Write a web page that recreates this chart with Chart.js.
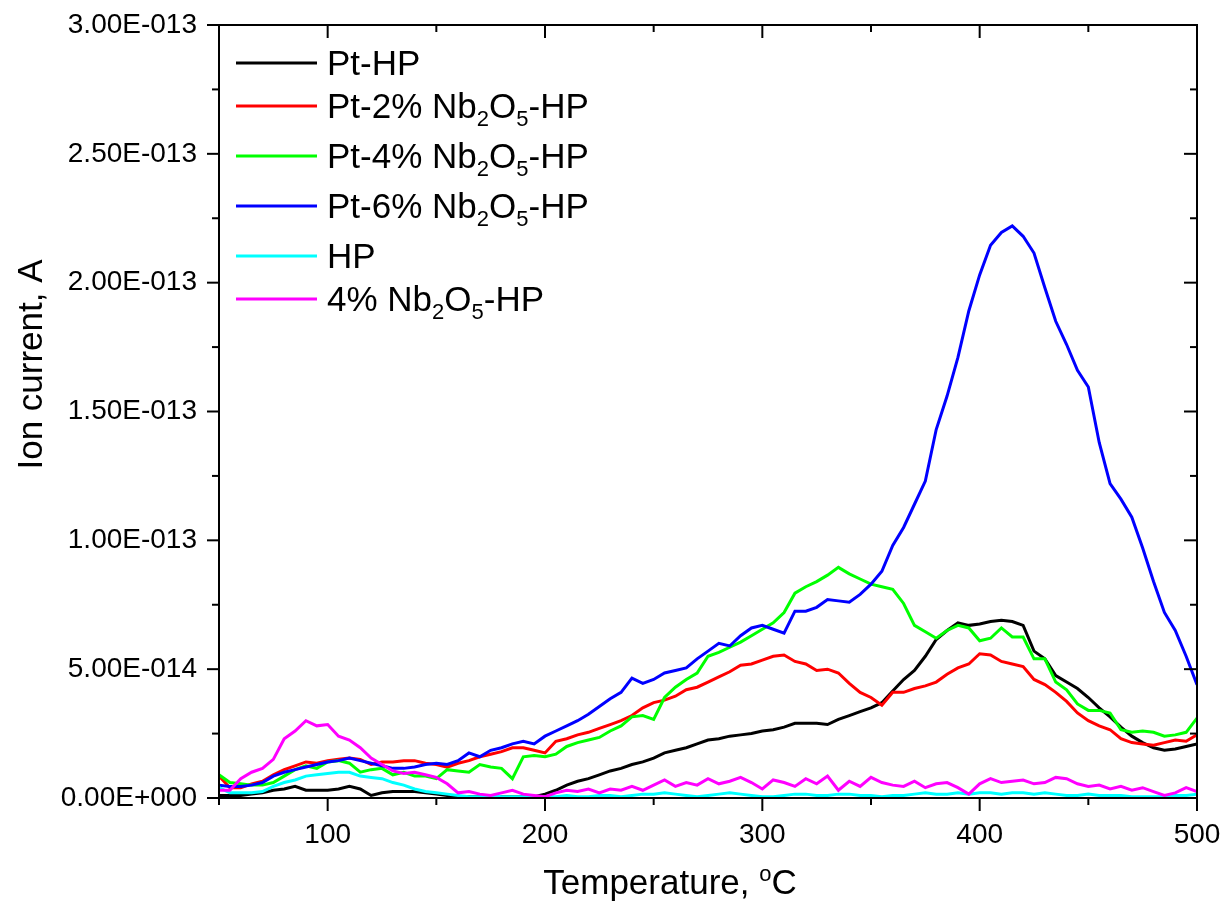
<!DOCTYPE html>
<html>
<head>
<meta charset="utf-8">
<script src="https://cdn.jsdelivr.net/npm/chart.js@4.4.1/dist/chart.umd.min.js"></script>
<style>
  html, body { margin: 0; padding: 0; background: #fff; }
</style>
</head>
<body>
<canvas id="tpdChart" width="1224" height="903"></canvas>
<script>
// temperature, deg C
const temps = [
  50, 55, 60, 65, 70, 75, 80, 85, 90, 95,
  100, 105, 110, 115, 120, 125, 130, 135, 140, 145,
  150, 155, 160, 165, 170, 175, 180, 185, 190, 195,
  200, 205, 210, 215, 220, 225, 230, 235, 240, 245,
  250, 255, 260, 265, 270, 275, 280, 285, 290, 295,
  300, 305, 310, 315, 320, 325, 330, 335, 340, 345,
  350, 355, 360, 365, 370, 375, 380, 385, 390, 395,
  400, 405, 410, 415, 420, 425, 430, 435, 440, 445,
  450, 455, 460, 465, 470, 475, 480, 485, 490, 495,
  500
];

// ion current, in units of 1E-14 A
const ptHP = [
  0.1, 0.1, 0.1, 0.15, 0.2, 0.3, 0.35, 0.45, 0.3, 0.3,
  0.3, 0.35, 0.45, 0.35, 0.1, 0.2, 0.25, 0.25, 0.25, 0.2,
  0.15, 0.1, 0.05, 0.05, 0.05, 0.05, 0.05, 0.05, 0.05, 0.05,
  0.15, 0.3, 0.5, 0.65, 0.75, 0.9, 1.05, 1.15, 1.3, 1.4,
  1.55, 1.75, 1.85, 1.95, 2.1, 2.25, 2.3, 2.4, 2.45, 2.5,
  2.6, 2.65, 2.75, 2.9, 2.9, 2.9, 2.85, 3.05, 3.2, 3.35,
  3.5, 3.7, 4.15, 4.6, 4.95, 5.5, 6.15, 6.5, 6.8, 6.7,
  6.75, 6.85, 6.9, 6.85, 6.7, 5.7, 5.4, 4.75, 4.5, 4.25,
  3.9, 3.5, 3.15, 2.75, 2.4, 2.15, 1.95, 1.85, 1.9, 2.0,
  2.1
];
const pt2Nb = [
  0.85, 0.4, 0.4, 0.55, 0.65, 0.9, 1.1, 1.25, 1.4, 1.35,
  1.45, 1.5, 1.55, 1.5, 1.3, 1.4, 1.4, 1.45, 1.45, 1.35,
  1.3, 1.2, 1.35, 1.45, 1.6, 1.7, 1.8, 1.95, 1.95, 1.85,
  1.75, 2.2, 2.3, 2.45, 2.55, 2.7, 2.85, 3.0, 3.2, 3.5,
  3.7, 3.8, 3.95, 4.2, 4.3, 4.5, 4.7, 4.9, 5.15, 5.2,
  5.35, 5.5, 5.55, 5.3, 5.2, 4.95, 5.0, 4.85, 4.45, 4.1,
  3.9, 3.6, 4.1, 4.1, 4.25, 4.35, 4.5, 4.8, 5.05, 5.2,
  5.6, 5.55, 5.3, 5.2, 5.1, 4.6, 4.4, 4.1, 3.75, 3.3,
  3.0, 2.8, 2.65, 2.3, 2.15, 2.1, 2.05, 2.15, 2.25, 2.2,
  2.45
];
const pt4Nb = [
  0.9, 0.6, 0.55, 0.5, 0.5, 0.6, 0.85, 1.1, 1.25, 1.15,
  1.4, 1.45, 1.35, 1.0, 1.1, 1.15, 0.9, 1.0, 0.85, 0.85,
  0.75, 1.1, 1.05, 1.0, 1.3, 1.2, 1.15, 0.75, 1.6, 1.65,
  1.6, 1.7, 2.0, 2.15, 2.25, 2.35, 2.6, 2.8, 3.15, 3.2,
  3.05, 3.9, 4.3, 4.6, 4.85, 5.5, 5.65, 5.85, 6.05, 6.3,
  6.55, 6.8, 7.2, 7.95, 8.2, 8.4, 8.65, 8.95, 8.7, 8.5,
  8.3, 8.2, 8.1, 7.55, 6.7, 6.45, 6.2, 6.5, 6.7, 6.6,
  6.1, 6.2, 6.6, 6.25, 6.25, 5.4, 5.4, 4.5, 4.2, 3.65,
  3.4, 3.4, 3.3, 2.65, 2.55, 2.6, 2.55, 2.4, 2.45, 2.55,
  3.1
];
const pt6Nb = [
  0.5, 0.45, 0.45, 0.5, 0.6, 0.85, 1.0, 1.1, 1.2, 1.3,
  1.4, 1.45, 1.55, 1.45, 1.35, 1.25, 1.15, 1.15, 1.2, 1.3,
  1.35, 1.3, 1.45, 1.75, 1.6, 1.85, 1.95, 2.1, 2.2, 2.1,
  2.4, 2.6, 2.8, 3.0, 3.25, 3.55, 3.85, 4.1, 4.65, 4.45,
  4.6, 4.85, 4.95, 5.05, 5.4, 5.7, 6.0, 5.9, 6.3, 6.6,
  6.7, 6.55, 6.4, 7.25, 7.25, 7.4, 7.7, 7.65, 7.6, 7.9,
  8.3, 8.8, 9.8, 10.5, 11.4, 12.3, 14.3, 15.6, 17.1, 18.9,
  20.3, 21.45, 21.95, 22.2, 21.8, 21.15, 19.8, 18.5, 17.6, 16.6,
  15.95, 13.8, 12.2, 11.6, 10.9, 9.7, 8.4, 7.2, 6.5, 5.5,
  4.4
];
const hp = [
  0.4, 0.2, 0.2, 0.2, 0.25, 0.45, 0.6, 0.7, 0.85, 0.9,
  0.95, 1.0, 1.0, 0.85, 0.8, 0.75, 0.6, 0.5, 0.35, 0.25,
  0.2, 0.15, 0.1, 0.05, 0.05, 0.1, 0.05, 0.05, 0.05, 0.05,
  0.05, 0.05, 0.1, 0.05, 0.05, 0.1, 0.1, 0.05, 0.1, 0.15,
  0.15, 0.2, 0.15, 0.1, 0.05, 0.1, 0.15, 0.2, 0.15, 0.1,
  0.05, 0.05, 0.1, 0.15, 0.15, 0.1, 0.1, 0.15, 0.15, 0.1,
  0.1, 0.05, 0.1, 0.1, 0.15, 0.2, 0.15, 0.15, 0.2, 0.15,
  0.2, 0.2, 0.15, 0.2, 0.2, 0.15, 0.2, 0.15, 0.1, 0.1,
  0.15, 0.1, 0.1, 0.1, 0.05, 0.05, 0.05, 0.05, 0.1, 0.1,
  0.15
];
const nb4HP = [
  0.3, 0.3, 0.75, 1.0, 1.15, 1.5, 2.3, 2.6, 3.0, 2.8,
  2.85, 2.4, 2.25, 1.95, 1.55, 1.3, 1.05, 0.95, 1.0, 0.9,
  0.8, 0.55, 0.2, 0.25, 0.15, 0.1, 0.2, 0.3, 0.15, 0.1,
  0.05, 0.2, 0.3, 0.25, 0.35, 0.2, 0.35, 0.3, 0.45, 0.3,
  0.5, 0.7, 0.45, 0.6, 0.5, 0.75, 0.55, 0.65, 0.8, 0.6,
  0.35, 0.7, 0.6, 0.45, 0.75, 0.55, 0.85, 0.3, 0.65, 0.45,
  0.8, 0.6, 0.5, 0.45, 0.65, 0.4, 0.55, 0.6, 0.4, 0.15,
  0.55, 0.75, 0.6, 0.65, 0.7, 0.55, 0.6, 0.8, 0.75, 0.55,
  0.45, 0.5, 0.35, 0.45, 0.3, 0.4, 0.25, 0.1, 0.2, 0.4,
  0.25
];

const seriesNames  = ["Pt-HP", "Pt-2% Nb2O5-HP", "Pt-4% Nb2O5-HP", "Pt-6% Nb2O5-HP", "HP", "4% Nb2O5-HP"];
const seriesValues = [ptHP, pt2Nb, pt4Nb, pt6Nb, hp, nb4HP];
const seriesColors = ["#000000", "#ff0000", "#00ff00", "#0000ff", "#00ffff", "#ff00ff"];

const xMajorTicks = [100, 200, 300, 400, 500];
const xMinorTicks = [50, 150, 250, 350, 450];
const yMajorTicks = [0, 5e-14, 1e-13, 1.5e-13, 2e-13, 2.5e-13, 3e-13];
const yMinorTicks = [2.5e-14, 7.5e-14, 1.25e-13, 1.75e-13, 2.25e-13, 2.75e-13];

const FONT = "'Liberation Sans', Arial, sans-serif";

// 5.00E-014 style
function sciLabel(v) {
    if (v === 0) return "0.00E+000";
    const [m, e] = v.toExponential(2).split("e");
    const n = parseInt(e, 10);
    return m + "E" + (n < 0 ? "-" : "+") + String(Math.abs(n)).padStart(3, "0");
}

// text with chemical subscripts (Nb2O5) or a superscript o
function drawRich(ctx, parts, x, y, size) {
    let cx = x;
    parts.forEach(p => {
        const s = p.sub || p.sup ? Math.round(size * 0.62) : size;
        ctx.font = s + "px " + FONT;
        const dy = p.sub ? size * 0.24 : (p.sup ? -size * 0.38 : 0);
        ctx.fillText(p.t, cx, y + dy);
        cx += ctx.measureText(p.t).width;
    });
    return cx - x;
}
function richWidth(ctx, parts, size) {
    let w = 0;
    parts.forEach(p => {
        const s = p.sub || p.sup ? Math.round(size * 0.62) : size;
        ctx.font = s + "px " + FONT;
        w += ctx.measureText(p.t).width;
    });
    return w;
}
function chemParts(label) {
    return label.split(/(?<=[A-Za-z])(\d+)/).map((t, i) => ({ t, sub: i % 2 === 1 })).filter(p => p.t);
}

const framePlugin = {
    id: "originFrame",
    afterDraw(chart) {
        const { ctx, chartArea: a, scales } = chart;
        const xs = scales.x, ys = scales.y;
        ctx.save();
        ctx.strokeStyle = "#000";
        ctx.lineWidth = 2;
        ctx.strokeRect(a.left, a.top, a.right - a.left, a.bottom - a.top);
        const seg = (x1, y1, x2, y2) => { ctx.beginPath(); ctx.moveTo(x1, y1); ctx.lineTo(x2, y2); ctx.stroke(); };
        xMajorTicks.forEach(v => {
            const p = xs.getPixelForValue(v);
            seg(p, a.bottom, p, a.bottom + 13);
            seg(p, a.top, p, a.top + 13);
        });
        xMinorTicks.forEach(v => {
            const p = xs.getPixelForValue(v);
            seg(p, a.bottom, p, a.bottom + 7);
            seg(p, a.top, p, a.top + 7);
        });
        yMajorTicks.forEach(v => {
            const p = ys.getPixelForValue(v);
            seg(a.left - 12, p, a.left, p);
            seg(a.right - 13, p, a.right, p);
        });
        yMinorTicks.forEach(v => {
            const p = ys.getPixelForValue(v);
            seg(a.left - 7, p, a.left, p);
            seg(a.right - 7, p, a.right, p);
        });

        ctx.fillStyle = "#000";
        ctx.textAlign = "left";
        ctx.textBaseline = "alphabetic";

        // legend
        let ly = a.top + 38;
        seriesNames.forEach((name, i) => {
            const parts = chemParts(name);
            ctx.strokeStyle = seriesColors[i];
            ctx.lineWidth = 3;
            seg(a.left + 17, ly, a.left + 98, ly);
            drawRich(ctx, parts, a.left + 108, ly + 12, 35);
            ly += parts.length > 1 ? 50 : 43;
        });

        // x title
        const xt = [{ t: "Temperature, " }, { t: "o", sup: true }, { t: "C" }];
        const xw = richWidth(ctx, xt, 35);
        drawRich(ctx, xt, (a.left + a.right) / 2 - 38 - xw / 2, a.bottom + 96, 35);

        // y title
        ctx.translate(42, (a.top + a.bottom) / 2 - 47);
        ctx.rotate(-Math.PI / 2);
        ctx.textAlign = "center";
        ctx.font = "35px " + FONT;
        ctx.fillText("Ion current, A", 0, 0);
        ctx.restore();
    }
};

const canvas = document.getElementById("tpdChart");
new Chart(canvas, {
    type: "line",
    data: {
        datasets: seriesNames.map((name, i) => ({
            label: name,
            data: temps.map((t, k) => ({ x: t, y: seriesValues[i][k] * 1e-14 })),
            borderColor: seriesColors[i],
            backgroundColor: seriesColors[i],
            borderWidth: 3,
            pointRadius: 0,
            tension: 0,
            fill: false,
            order: seriesNames.length - i
        }))
    },
    options: {
        responsive: false,
        animation: false,
        devicePixelRatio: 1,
        layout: { padding: { top: 25, right: 27, left: 0, bottom: 0 } },
        plugins: {
            legend: { display: false },
            tooltip: { enabled: false }
        },
        scales: {
            x: {
                type: "linear",
                min: 50,
                max: 500,
                afterBuildTicks: s => { s.ticks = xMajorTicks.map(v => ({ value: v })); },
                afterFit: s => { s.height = 105; s.paddingLeft = 0; s.paddingRight = 0; },
                grid: { display: false, drawTicks: false },
                border: { display: false },
                ticks: { color: "#000", font: { family: FONT, size: 28 }, padding: 20, maxRotation: 0 }
            },
            y: {
                type: "linear",
                min: 0,
                max: 3e-13,
                afterBuildTicks: s => { s.ticks = yMajorTicks.map(v => ({ value: v })); },
                afterFit: s => { s.width = 219; s.paddingTop = 0; s.paddingBottom = 0; },
                grid: { display: false, drawTicks: false },
                border: { display: false },
                ticks: { color: "#000", font: { family: FONT, size: 28 }, padding: 22, callback: sciLabel }
            }
        }
    },
    plugins: [framePlugin]
});
</script>
</body>
</html>
